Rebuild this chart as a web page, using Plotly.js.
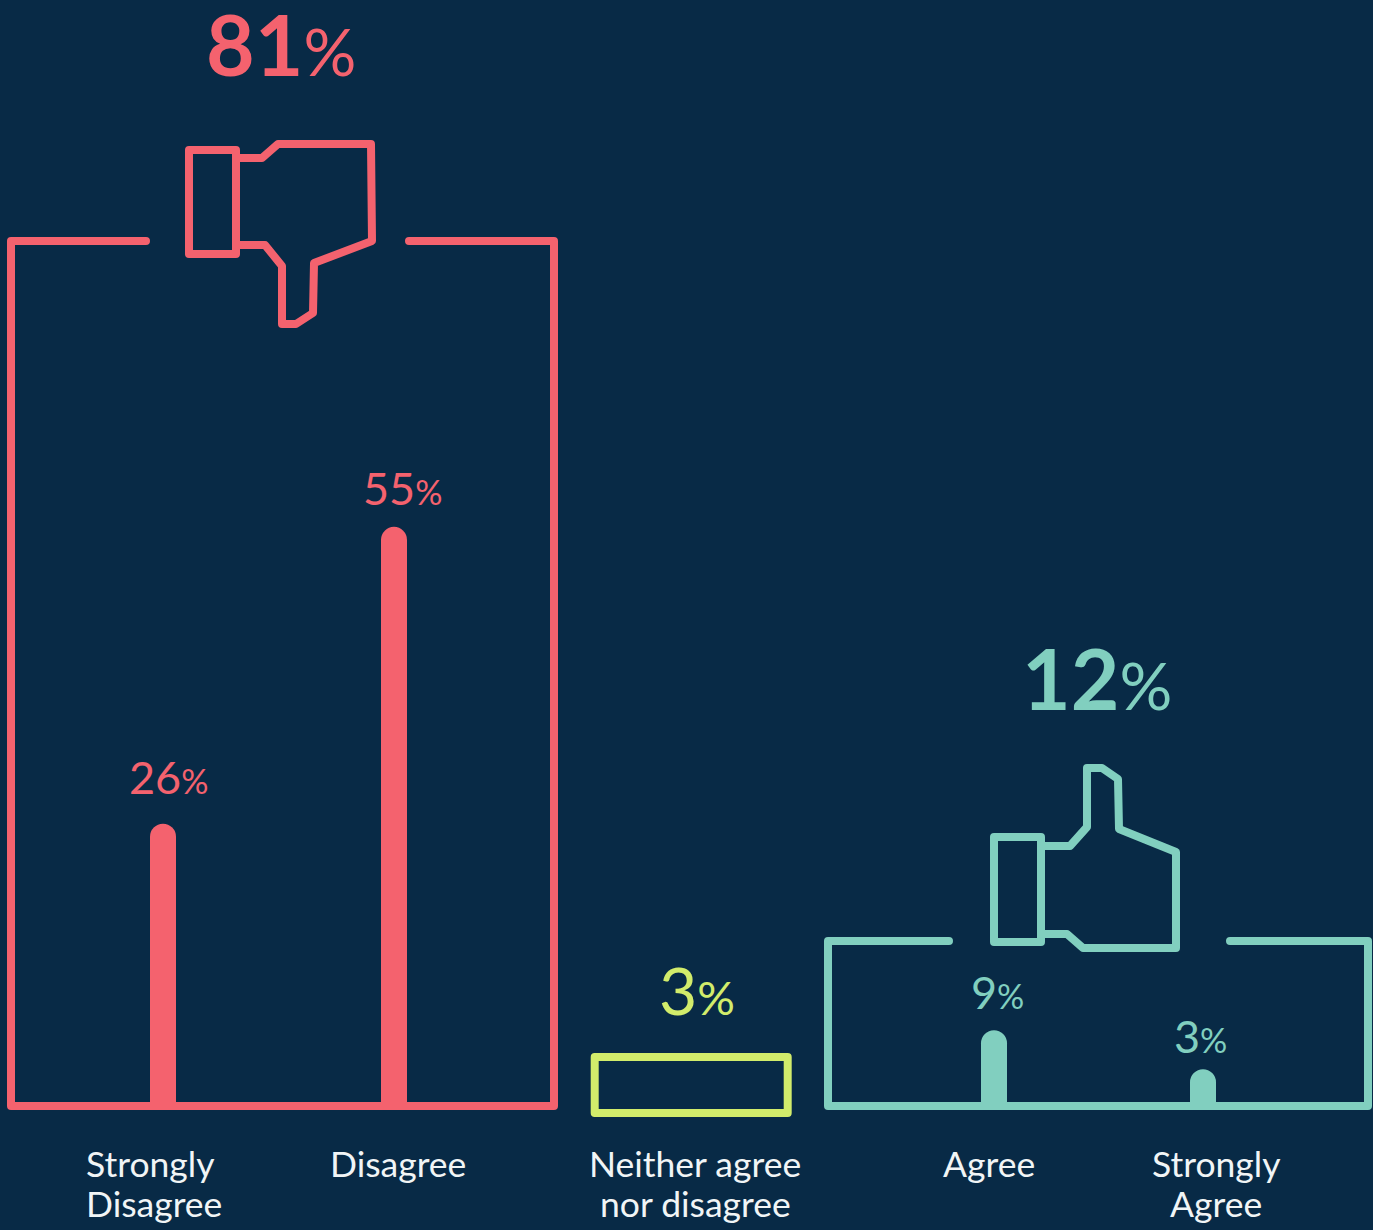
<!DOCTYPE html>
<html>
<head>
<meta charset="utf-8">
<script src="https://cdn.plot.ly/plotly-3.0.1.min.js"></script>
<style>
html,body{margin:0;padding:0;background:#082a46;overflow:hidden}
.shapelayer path{stroke-linejoin:round;stroke-linecap:round}
</style>
</head>
<body>
<div id="chart" style="width:1373px;height:1230px"></div>
<script>
// ---- data ----
var barCategories = ['Strongly Disagree', 'Disagree', 'Agree', 'Strongly Agree'];
var barHeights = [26.8, 55, 7.2, 3.5];          // drawn heights of the bars
var barColors = ['#f4626e', '#f4626e', '#81cfbf', '#81cfbf'];

var shareValues = ['26', '55', '9', '3'];       // printed percentages
var neutralValue = '3';
var disagreeTotal = '81';
var agreeTotal = '12';

var tickLines1 = ['Strongly', 'Disagree', 'Neither agree', 'Agree', 'Strongly'];
var tickLines2 = ['Disagree', '', 'nor disagree', '', 'Agree'];

// ---- page geometry ----
var W = 1373, H = 1230, BASE = 1106, K = 10.53;
function Y(px) { return (BASE - px) / K; }
var RED = '#f4626e', TEAL = '#81cfbf', LIME = '#d2ec6b', BG = '#082a46', WHITE = '#f1f5f6';
var FONT = 'Lato, "Noto Sans", sans-serif';

var barX = [163, 394, 994, 1203];
var tickX1 = [150, 398, 695, 989, 1216];
var tickX2 = [154, 398, 695, 989, 1216];

function path(points, closed) {
  var s = points.map(function (p, i) { return (i ? 'L' : 'M') + p[0] + ',' + Y(p[1]); }).join(' ');
  return s + (closed ? ' Z' : '');
}
function outline(points, color, closed) {
  return { type: 'path', xref: 'x', yref: 'y', layer: 'below', path: path(points, closed),
           line: { color: color, width: 8 } };
}

var shapes = [
  outline([[146,241],[11,241],[11,1106],[554,1106],[554,241],[409,241]], RED),
  outline([[189,150],[236,150],[236,254],[189,254]], RED, true),
  outline([[236,158],[262,158],[278,144],[371,144],[372,241],[314,263],[313,313],[296,324],[282,324],[282,266],[265,245],[236,245]], RED),
  outline([[594.7,1057],[787.7,1057],[787.7,1113],[594.7,1113]], LIME, true),
  outline([[949,941],[828,941],[828,1106],[1368,1106],[1368,941],[1230,941]], TEAL),
  outline([[994,837],[1041,837],[1041,942],[994,942]], TEAL, true),
  outline([[1041,846],[1070,846],[1087,827],[1087,768],[1102,768],[1118,779],[1119,829],[1176,852],[1176,948],[1083,948],[1067,934],[1041,934]], TEAL)
];

function pct(num, size, pctSize, color, x, yPx, bold) {
  var n = bold ? '<b>' + num + '</b>' : num;
  return { xref: 'x', yref: 'y', x: x, y: Y(yPx), xanchor: 'center', yanchor: 'middle', showarrow: false,
           text: n + '<span style="font-size:' + pctSize + 'px">%</span>',
           font: { family: FONT, size: size, color: color } };
}

var annotations = [
  pct(disagreeTotal, 84, 66, RED, 281, 43, true),
  pct(agreeTotal, 84, 66, TEAL, 1097, 677, true),
  pct(neutralValue, 66, 47, LIME, 697, 989),
  pct(shareValues[0], 45, 34, RED, 168, 777),
  pct(shareValues[1], 45, 34, RED, 402, 488),
  pct(shareValues[2], 45, 34, TEAL, 997, 992),
  pct(shareValues[3], 45, 34, TEAL, 1200, 1036)
];
function tick(text, x, yPx) {
  return { xref: 'x', yref: 'y', x: x, y: Y(yPx), xanchor: 'center', yanchor: 'middle', showarrow: false,
           text: text, font: { family: FONT, size: 35.5, color: WHITE } };
}
tickLines1.forEach(function (t, i) { annotations.push(tick(t, tickX1[i], 1163)); });
tickLines2.forEach(function (t, i) { if (t) annotations.push(tick(t, tickX2[i], 1203)); });

Plotly.newPlot('chart', [{
  type: 'bar',
  x: barX,
  y: barHeights,
  text: barCategories,
  textposition: 'none',
  width: 26,
  marker: { color: barColors, cornerradius: 13, line: { width: 0 } },
  hoverinfo: 'text'
}], {
  width: W, height: H,
  margin: { l: 0, r: 0, t: 0, b: 0 },
  paper_bgcolor: BG, plot_bgcolor: BG,
  showlegend: false,
  xaxis: { range: [0, W], visible: false, fixedrange: true },
  yaxis: { range: [Y(H), Y(0)], visible: false, fixedrange: true },
  shapes: shapes,
  annotations: annotations
}, { displayModeBar: false });
</script>
</body>
</html>
